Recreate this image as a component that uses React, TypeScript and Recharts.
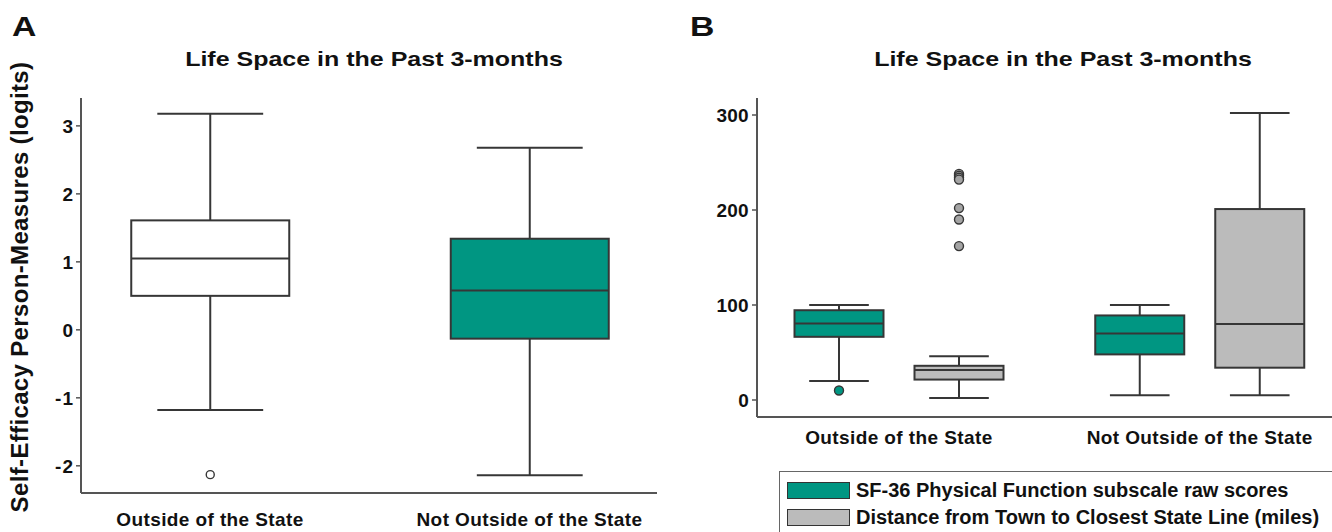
import { ComposedChart, Bar, XAxis, YAxis } from "recharts";

const CATEGORIES = ["Outside of the State", "Not Outside of the State"];

// Panel A: self-efficacy person-measures (logits)
const SE_LOW = [-1.18, -2.14];
const SE_Q1 = [0.5, -0.13];
const SE_MEDIAN = [1.05, 0.58];
const SE_Q3 = [1.61, 1.34];
const SE_HIGH = [3.18, 2.68];
const SE_OUTLIERS = [[-2.13], []];
const SE_TICKS = [-2, -1, 0, 1, 2, 3];

// Panel B: SF-36 physical function raw scores
const SF36_LOW = [20, 5];
const SF36_Q1 = [66.5, 48];
const SF36_MEDIAN = [80.5, 70];
const SF36_Q3 = [94.5, 89];
const SF36_HIGH = [100, 100];
const SF36_OUTLIERS = [[10], []];

// Panel B: distance from town to closest state line (miles)
const DIST_LOW = [2, 5];
const DIST_Q1 = [21.5, 34];
const DIST_MEDIAN = [31.5, 80];
const DIST_Q3 = [36, 201];
const DIST_HIGH = [46, 302];
const DIST_OUTLIERS = [[238, 236, 234, 232, 202, 190, 162], []];
const B_TICKS = [0, 100, 200, 300];

const SERIES_B = [
  "SF-36 Physical Function subscale raw scores",
  "Distance from Town to Closest State Line (miles)",
];

const TEAL = "#009682";
const GRAY = "#bbbbbb";
const INK = "#363636";
const FONT = "'Liberation Sans', Arial, sans-serif";

type Stats = {
  low: number;
  q1: number;
  median: number;
  q3: number;
  high: number;
  outliers: number[];
};

const stats = (
  low: number[],
  q1: number[],
  median: number[],
  q3: number[],
  high: number[],
  outliers: number[][],
  i: number
): Stats => ({
  low: low[i],
  q1: q1[i],
  median: median[i],
  q3: q3[i],
  high: high[i],
  outliers: outliers[i],
});

const dataA = CATEGORIES.map((name, i) => ({
  name,
  se: stats(SE_LOW, SE_Q1, SE_MEDIAN, SE_Q3, SE_HIGH, SE_OUTLIERS, i),
}));

const dataB = CATEGORIES.map((name, i) => ({
  name,
  sf36: stats(SF36_LOW, SF36_Q1, SF36_MEDIAN, SF36_Q3, SF36_HIGH, SF36_OUTLIERS, i),
  dist: stats(DIST_LOW, DIST_Q1, DIST_MEDIAN, DIST_Q3, DIST_HIGH, DIST_OUTLIERS, i),
}));

// full extent of a box (whiskers + outliers) so the bar spans it on the value axis
const extent = (s: Stats) => [
  Math.min(s.low, ...s.outliers),
  Math.max(s.high, ...s.outliers),
];

function boxShape(
  key: string,
  fills: string[],
  dotFills: string[],
  dotR: number
) {
  return (props: any) => {
    const { x, y, width, height, payload, index } = props;
    const s: Stats = payload[key];
    const [lo, hi] = extent(s);
    const py = (v: number) => y + (height * (hi - v)) / (hi - lo);
    const cx = x + width / 2;
    const cap = (width * 0.67) / 2;
    return (
      <g>
        <line x1={cx} x2={cx} y1={py(s.high)} y2={py(s.q3)} stroke={INK} strokeWidth={2} />
        <line x1={cx} x2={cx} y1={py(s.q1)} y2={py(s.low)} stroke={INK} strokeWidth={2} />
        <line x1={cx - cap} x2={cx + cap} y1={py(s.high)} y2={py(s.high)} stroke={INK} strokeWidth={2} />
        <line x1={cx - cap} x2={cx + cap} y1={py(s.low)} y2={py(s.low)} stroke={INK} strokeWidth={2} />
        <rect
          x={x}
          y={py(s.q3)}
          width={width}
          height={py(s.q1) - py(s.q3)}
          fill={fills[index]}
          stroke={INK}
          strokeWidth={2}
        />
        <line x1={x} x2={x + width} y1={py(s.median)} y2={py(s.median)} stroke={INK} strokeWidth={2} />
        {s.outliers.map((v, k) => (
          <circle key={k} cx={cx} cy={py(v)} r={dotR} fill={dotFills[index]} stroke={INK} strokeWidth={1.4} />
        ))}
      </g>
    );
  };
}

const tickStyle = { fontFamily: FONT, fontWeight: 700, fill: "#111" };

function PanelA() {
  return (
    <ComposedChart
      width={670}
      height={532}
      data={dataA}
      margin={{ top: 98, right: 13, bottom: 0, left: 0 }}
    >
      <XAxis
        dataKey="name"
        height={39}
        padding={{ left: -30.75, right: -32.25 }}
        tickSize={0}
        tickMargin={20}
        axisLine={{ stroke: "#555", strokeWidth: 2 }}
        tick={{ ...tickStyle, fontSize: 19, letterSpacing: 0.4 }}
      />
      <YAxis
        type="number"
        width={81}
        domain={[-2.4, 3.41]}
        ticks={SE_TICKS}
        allowDataOverflow
        tickSize={5}
        tickMargin={2}
        axisLine={{ stroke: "#555", strokeWidth: 2 }}
        tickLine={{ stroke: "#555", strokeWidth: 1.5 }}
        tick={{ ...tickStyle, fontSize: 19, letterSpacing: 1 }}
        label={{
          content: () => (
            <text
              x={19}
              y={287}
              transform="rotate(-90 19 287)"
              textAnchor="middle"
              dominantBaseline="central"
              style={{ fontFamily: FONT, fontWeight: 700, fontSize: 24, letterSpacing: 0.35, fill: "#111" }}
            >
              Self-Efficacy Person-Measures (logits)
            </text>
          ),
        }}
      />
      <Bar
        dataKey={(d: any) => extent(d.se)}
        barSize={158}
        isAnimationActive={false}
        shape={boxShape("se", ["#ffffff", TEAL], ["#ffffff", "#ffffff"], 4)}
      />
    </ComposedChart>
  );
}

function PanelB() {
  return (
    <ComposedChart
      width={680}
      height={460}
      data={dataB}
      barGap={31}
      margin={{ top: 98, right: 0, bottom: 0, left: 0 }}
    >
      <XAxis
        dataKey="name"
        height={43}
        padding={{ left: -8.5, right: 0 }}
        tickSize={0}
        tickMargin={14}
        axisLine={{ stroke: "#555", strokeWidth: 2 }}
        tick={{ ...tickStyle, fontSize: 19, letterSpacing: 0.4 }}
      />
      <YAxis
        type="number"
        width={87}
        domain={[-17.9, 317.9]}
        ticks={B_TICKS}
        allowDataOverflow
        tickSize={5}
        tickMargin={3}
        axisLine={{ stroke: "#555", strokeWidth: 2 }}
        tickLine={{ stroke: "#555", strokeWidth: 1.5 }}
        tick={{ ...tickStyle, fontSize: 19, letterSpacing: 0.3 }}
      />
      <Bar
        name={SERIES_B[0]}
        dataKey={(d: any) => extent(d.sf36)}
        barSize={89}
        fill={TEAL}
        isAnimationActive={false}
        shape={boxShape("sf36", [TEAL, TEAL], [TEAL, TEAL], 4.5)}
      />
      <Bar
        name={SERIES_B[1]}
        dataKey={(d: any) => extent(d.dist)}
        barSize={89}
        fill={GRAY}
        isAnimationActive={false}
        shape={boxShape("dist", [GRAY, GRAY], ["#a4a4a4", "#a4a4a4"], 4.5)}
      />
    </ComposedChart>
  );
}

const titleStyle: React.CSSProperties = {
  position: "absolute",
  top: 48,
  fontFamily: FONT,
  fontWeight: 700,
  fontSize: 21,
  lineHeight: "21px",
  color: "#111",
  whiteSpace: "nowrap",
  transform: "translateX(-50%) scaleX(1.19)",
};

const panelLetter: React.CSSProperties = {
  position: "absolute",
  top: 14,
  fontFamily: FONT,
  fontWeight: 700,
  fontSize: 27,
  lineHeight: "27px",
  color: "#111",
  transform: "scaleX(1.25)",
  transformOrigin: "left top",
};

export default function App() {
  return (
    <div
      style={{
        position: "relative",
        width: 1332,
        height: 532,
        overflow: "hidden",
        background: "#fff",
      }}
    >
      <style>{"body{margin:0}"}</style>
      <div style={{ ...panelLetter, left: 12 }}>A</div>
      <div style={{ ...panelLetter, left: 690 }}>B</div>
      <div style={{ ...titleStyle, left: 374 }}>Life Space in the Past 3-months</div>
      <div style={{ ...titleStyle, left: 1063 }}>Life Space in the Past 3-months</div>
      <div style={{ position: "absolute", left: 0, top: 0 }}>
        <PanelA />
      </div>
      <div style={{ position: "absolute", left: 670, top: 0 }}>
        <PanelB />
      </div>
      <div
        style={{
          position: "absolute",
          left: 779,
          top: 471,
          width: 600,
          height: 100,
          border: "1.5px solid #666",
          fontFamily: FONT,
          fontWeight: 700,
          fontSize: 20,
          color: "#111",
        }}
      >
        {SERIES_B.map((name, i) => (
          <div
            key={name}
            style={{
              position: "absolute",
              left: 7,
              top: 9 + i * 27,
              display: "flex",
              alignItems: "center",
              whiteSpace: "nowrap",
              lineHeight: "18px",
            }}
          >
            <span
              style={{
                display: "inline-block",
                width: 61,
                height: 15,
                background: i === 0 ? TEAL : GRAY,
                border: "1.5px solid #333",
                marginRight: 6,
              }}
            />
            {name}
          </div>
        ))}
      </div>
    </div>
  );
}
